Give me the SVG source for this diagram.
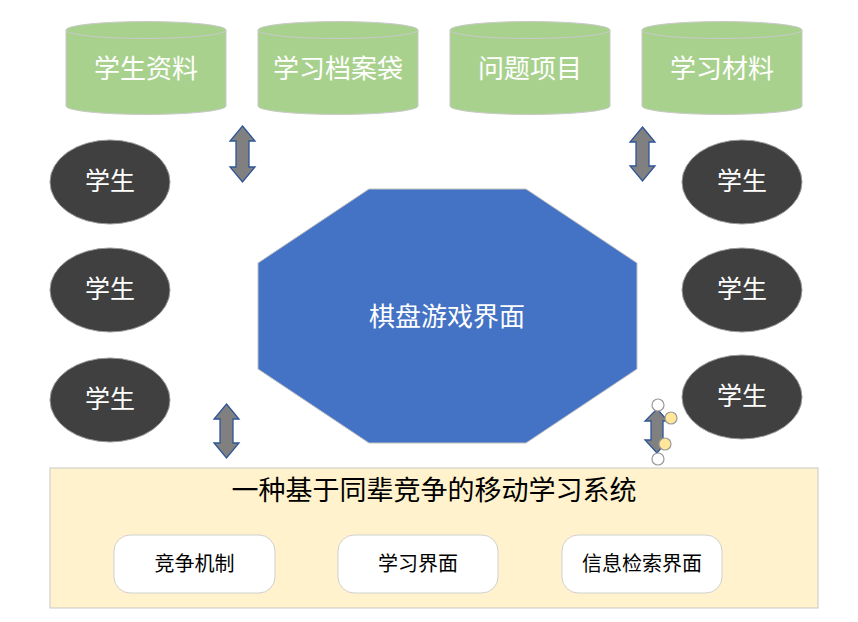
<svg xmlns="http://www.w3.org/2000/svg" width="858" height="622" viewBox="0 0 858 622">
<style>
text{font-family:"Noto Sans CJK SC","Noto Sans",sans-serif;text-anchor:middle;dominant-baseline:central}
.cyl{fill:#A9D18E;stroke:#C9C9C9;stroke-width:1}
.cylt{fill:#fff;font-size:26px}
.stu{fill:#404040;stroke:#9a9a9a;stroke-width:1}
.stut{fill:#fff;font-size:25px}
.arr{fill:#808080;stroke:#2F5597;stroke-width:1.3}
.sub{fill:#fff;stroke:#D0D0D0;stroke-width:1}
.subt{fill:#000;font-size:20px}
</style>
<rect width="858" height="622" fill="#fff"/>
<g id="cyl1"><path class="cyl" d="M66,30 A80,8.5 0 0 1 226,30 V106 A80,8.5 0 0 1 66,106 Z"/><path d="M66,30 A80,8.5 0 0 0 226,30" fill="none" stroke="#C9C9C9"/><text class="cylt" x="146" y="66">学生资料</text></g>
<g id="cyl2"><path class="cyl" d="M258,30 A80,8.5 0 0 1 418,30 V106 A80,8.5 0 0 1 258,106 Z"/><path d="M258,30 A80,8.5 0 0 0 418,30" fill="none" stroke="#C9C9C9"/><text class="cylt" x="338" y="66">学习档案袋</text></g>
<g id="cyl3"><path class="cyl" d="M450,30 A80,8.5 0 0 1 610,30 V106 A80,8.5 0 0 1 450,106 Z"/><path d="M450,30 A80,8.5 0 0 0 610,30" fill="none" stroke="#C9C9C9"/><text class="cylt" x="530" y="66">问题项目</text></g>
<g id="cyl4"><path class="cyl" d="M642,30 A80,8.5 0 0 1 802,30 V106 A80,8.5 0 0 1 642,106 Z"/><path d="M642,30 A80,8.5 0 0 0 802,30" fill="none" stroke="#C9C9C9"/><text class="cylt" x="722" y="66">学习材料</text></g>
<g id="s1"><ellipse class="stu" cx="110" cy="182" rx="60" ry="42"/><text class="stut" x="110" y="179">学生</text></g>
<g id="s2"><ellipse class="stu" cx="110" cy="290" rx="60" ry="42"/><text class="stut" x="110" y="287">学生</text></g>
<g id="s3"><ellipse class="stu" cx="110" cy="400" rx="60" ry="42"/><text class="stut" x="110" y="397">学生</text></g>
<g id="s4"><ellipse class="stu" cx="742" cy="182" rx="60" ry="42"/><text class="stut" x="742" y="179">学生</text></g>
<g id="s5"><ellipse class="stu" cx="742" cy="290" rx="60" ry="42"/><text class="stut" x="742" y="287">学生</text></g>
<g id="s6"><ellipse class="stu" cx="742" cy="397" rx="60" ry="42"/><text class="stut" x="742" y="394">学生</text></g>
<g id="board"><polygon points="369,189 526,189 637,263 637,369 526,443 369,443 258,369 258,263" fill="#4472C4" stroke="#C0C0C0" stroke-width="1"/><text x="447" y="314" fill="#fff" font-size="26">棋盘游戏界面</text></g>
<g id="system"><rect x="50" y="468" width="768" height="140" fill="#FFF2CC" stroke="#C8C8C8"/><text x="434" y="488" fill="#000" font-size="27">一种基于同辈竞争的移动学习系统</text>
<g id="m1"><rect class="sub" x="114" y="535" width="161" height="58" rx="16"/><text class="subt" x="194.5" y="562">竞争机制</text></g>
<g id="m2"><rect class="sub" x="338" y="535" width="160" height="58" rx="16"/><text class="subt" x="418" y="562">学习界面</text></g>
<g id="m3"><rect class="sub" x="562" y="535" width="160" height="58" rx="16"/><text class="subt" x="642" y="562">信息检索界面</text></g>
</g>
<g id="connectors">
<path class="arr" d="M242.5,126 L255,141 L249,141 L249,167 L255,167 L242.5,182 L230,167 L236,167 L236,141 L230,141 Z"/>
<path class="arr" d="M642.5,127 L655,142 L649,142 L649,166 L655,166 L642.5,181 L630,166 L636,166 L636,142 L630,142 Z"/>
<path class="arr" d="M226.5,404 L239,419 L233,419 L233,443 L239,443 L226.5,458 L214,443 L220,443 L220,419 L214,419 Z"/>
<path class="arr" d="M657,409 L668,421 L663,421 L663,440 L668,440 L657,453 L645,440 L651,440 L651,421 L645,421 Z"/>
<g stroke="#999" stroke-width="1.2"><circle cx="658" cy="405" r="6" fill="#fff"/><circle cx="658" cy="459" r="6" fill="#fff"/><circle cx="671" cy="418" r="6" fill="#FFE699"/><circle cx="665" cy="444" r="6" fill="#FFE699"/></g>
</g>
</svg>
